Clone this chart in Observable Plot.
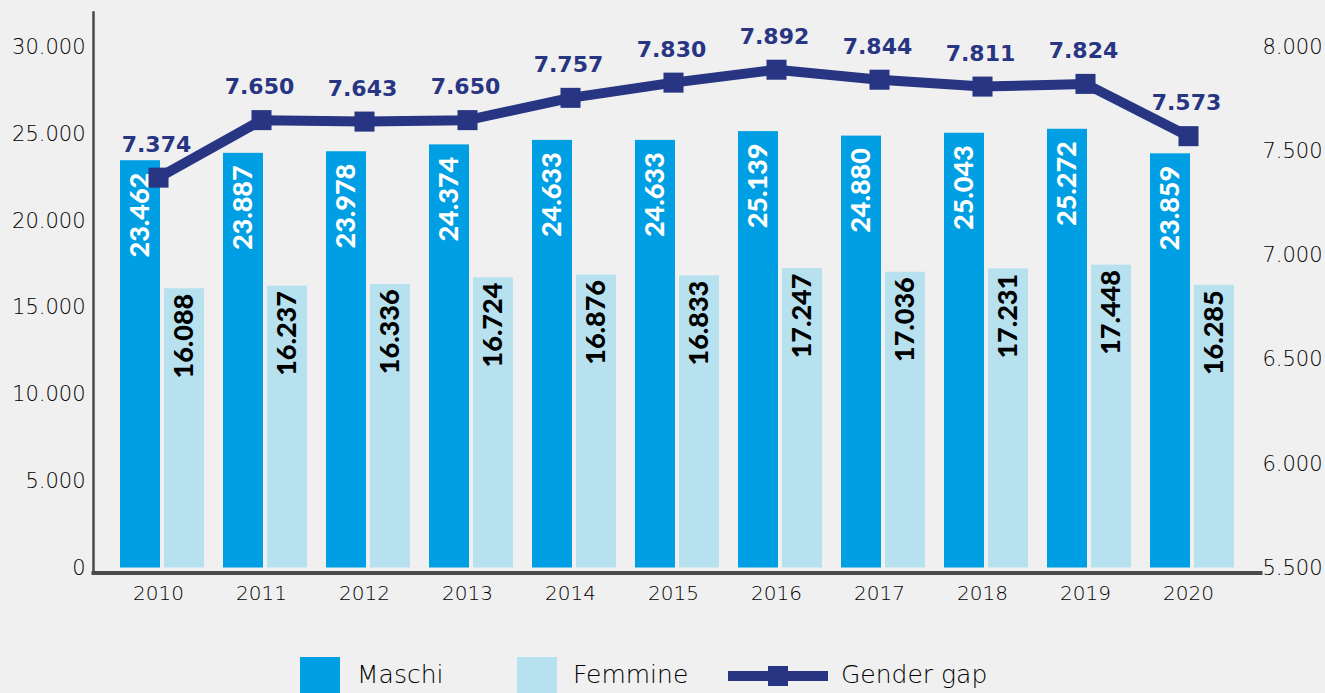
<!DOCTYPE html>
<html>
<head>
<meta charset="utf-8">
<script src="https://cdn.jsdelivr.net/npm/d3@7"></script>
<script src="https://cdn.jsdelivr.net/npm/@observablehq/plot@0.6"></script>
<style>
  html, body { margin: 0; padding: 0; background: #f0f0f0; }
  body { width: 1325px; height: 693px; overflow: hidden; position: relative; font-family: "DejaVu Sans", sans-serif; }
  #chart svg { display: block; }
  .lg { position: absolute; }
  .sw { position: absolute; top: 657px; width: 40px; height: 40px; }
  .lt { position: absolute; top: 662px; font-size: 25px; line-height: 25px; font-weight: 200; color: #000; white-space: nowrap; }
</style>
</head>
<body>
<div id="chart"></div>
<div id="legend"></div>
<script>
const years = [2010, 2011, 2012, 2013, 2014, 2015, 2016, 2017, 2018, 2019, 2020];
const maschi = [23462, 23887, 23978, 24374, 24633, 24633, 25139, 24880, 25043, 25272, 23859];
const femmine = [16088, 16237, 16336, 16724, 16876, 16833, 17247, 17036, 17231, 17448, 16285];
const genderGap = [7374, 7650, 7643, 7650, 7757, 7830, 7892, 7844, 7811, 7824, 7573];
const leftTicks = [0, 5000, 10000, 15000, 20000, 25000, 30000];
const rightTicks = [5500, 6000, 6500, 7000, 7500, 8000];
const seriesNames = ["Maschi", "Femmine", "Gender gap"];

const colM = "#009fe3", colF = "#b8e1f0", colG = "#283583";

const it = d3.formatLocale({decimal: ",", thousands: ".", grouping: [3], currency: ["€", ""]});
const fmt = it.format(",d");

// right axis (gender gap) mapped onto the left scale: 5.500 -> 0, 8.000 -> 30.000
const R0 = 5500, R1 = 8000, L1 = 30000;
const toLeft = g => (g - R0) / (R1 - R0) * L1;

const data = years.map((y, i) => ({year: String(y), m: maschi[i], f: femmine[i], g: genderGap[i]}));

const lightFont = {fontFamily: "DejaVu Sans", fontWeight: 200};

const plot = Plot.plot({
  width: 1325,
  height: 630,
  marginLeft: 93,
  marginRight: 65,
  marginTop: 12,
  marginBottom: 57.5,
  style: {background: "transparent", overflow: "visible", fontFamily: "DejaVu Sans"},
  x: {type: "band", domain: years.map(String), paddingInner: 0.188, paddingOuter: 0.232, align: 0.5, axis: null},
  y: {domain: [0, 32000], insetBottom: 5, axis: null},
  marks: [
    Plot.barY(data, {x: "year", y: "m", fill: colM, insetRight: 44}),
    Plot.barY(data, {x: "year", y: "f", fill: colF, insetLeft: 44}),
    Plot.frame({anchor: "left", stroke: "#4a4a4a", strokeWidth: 2.5}),
    Plot.frame({anchor: "bottom", stroke: "#4a4a4a", strokeWidth: 4}),
    Plot.axisY({ticks: leftTicks, tickSize: 0, tickPadding: 8, tickFormat: fmt, fontSize: 21, fill: "#000", label: null, ...lightFont}),
    Plot.text(rightTicks, {y: d => toLeft(d), text: d => fmt(d), frameAnchor: "right", textAnchor: "end", dx: 62, fontSize: 21, fill: "#000", ...lightFont}),
    Plot.axisX({tickSize: 0, tickPadding: 13, fontSize: 20, fill: "#000", dx: -4, label: null, ...lightFont}),
    Plot.text(data, {x: "year", y: "m", text: d => fmt(d.m), rotate: -90, textAnchor: "end", dx: -22, dy: 12, fill: "white", fontSize: 27, fontWeight: 900, fontFamily: "Lato"}),
    Plot.text(data, {x: "year", y: "f", text: d => fmt(d.f), rotate: -90, textAnchor: "end", dx: 22, dy: 5, fill: "black", fontSize: 27, fontWeight: 900, fontFamily: "Lato"}),
    Plot.line(data, {x: "year", y: d => toLeft(d.g), stroke: colG, strokeWidth: 10, dx: -4}),
    Plot.dot(data, {x: "year", y: d => toLeft(d.g), symbol: "square", r: 11.3, fill: colG, dx: -4}),
    Plot.text(data, {x: "year", y: d => toLeft(d.g), text: d => fmt(d.g), lineAnchor: "bottom", dy: -26, dx: -6, fill: colG, fontSize: 22, fontWeight: "bold", fontFamily: "DejaVu Sans"})
  ]
});
document.getElementById("chart").appendChild(plot);

// legend
const lg = document.getElementById("legend");
lg.innerHTML = `
  <div class="sw" style="left:300px;background:${colM}"></div>
  <div class="lt" style="left:357px">${seriesNames[0]}</div>
  <div class="sw" style="left:517px;background:${colF}"></div>
  <div class="lt" style="left:573px">${seriesNames[1]}</div>
  <svg class="lg" style="left:728px;top:666px" width="100" height="20">
    <rect x="0" y="5" width="100" height="10" fill="${colG}"></rect>
    <rect x="40" y="0" width="20" height="20" fill="${colG}"></rect>
  </svg>
  <div class="lt" style="left:841px">${seriesNames[2]}</div>
`;
</script>
</body>
</html>
